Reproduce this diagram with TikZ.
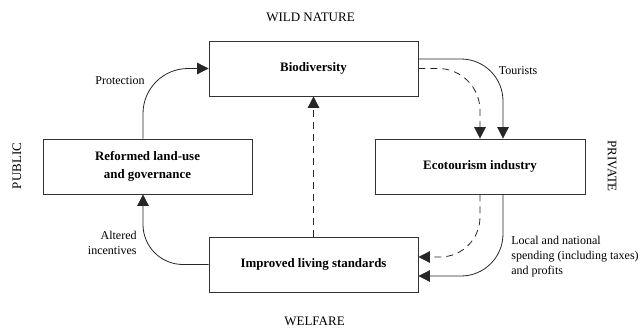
\documentclass[tikz,border=0pt]{standalone}
\usepackage{fontspec}
\setmainfont{Liberation Serif}
\usetikzlibrary{arrows.meta}
\begin{document}
\begin{tikzpicture}[x=1pt,y=-1pt,
  line width=0.8pt,
  box/.style={draw=black!80, rectangle, minimum width=209pt, minimum height=55pt, inner sep=2pt,
    font=\fontsize{12.9}{18.5}\selectfont\bfseries, align=center},
  lbl/.style={font=\fontsize{12}{14.5}\selectfont, inner sep=0pt},
  ttl/.style={font=\fontsize{13}{15}\selectfont, inner sep=0pt},
  arr/.style={draw=black!85, -{Triangle[length=11.5pt,width=11.5pt]}},
  dsh/.style={dash pattern=on 7pt off 5pt}]
\useasboundingbox (0,0) rectangle (642,329);
\node[box] (bio) at (313.5,68.5) {Biodiversity};
\node[box] (ref) at (147.5,166.5) {Reformed land-use\\and governance};
\node[box, minimum width=210pt] (eco) at (480,166.5) {Ecotourism industry};
\node[box] (imp) at (313.5,264.5) {Improved living standards};
\node[ttl] (wn) at (310.5,17) {WILD NATURE};
\node[ttl] (wf) at (314.5,321) {WELFARE};
\node[ttl, rotate=90] (pub) at (17,166) {PUBLIC};
\node[ttl, rotate=-90] (pri) at (612,166) {PRIVATE};
\node[lbl] (lp) at (120,81) {Protection};
\node[lbl] (lt) at (518,71) {Tourists};
\node[lbl, align=right, anchor=east] (la) at (137,243) {Altered\\incentives};
\node[lbl, align=left, anchor=west, font=\fontsize{12}{15}\selectfont] (ll) at (511,257) {Local and national\\spending (including taxes)\\and profits};
% connectors
\coordinate (p1) at ([xshift=-4.5pt]ref.north);
\draw[arr, rounded corners=45pt] (p1) |- (bio.west);
\coordinate (t1) at ([yshift=9.5pt]bio.east);
\coordinate (t2) at ([xshift=23pt]eco.north);
\draw[arr, rounded corners=42pt] (t1) -| (t2);
\draw[arr, dsh, rounded corners=42pt] (bio.east) -| (eco.north);
\draw[arr, dsh] (imp.north) -- (bio.south);
\coordinate (e1) at ([xshift=23pt]eco.south);
\coordinate (e2) at ([yshift=-11.5pt]imp.east);
\draw[arr, rounded corners=42pt] (e1) |- (e2);
\coordinate (e3) at ([yshift=7.5pt]imp.east);
\draw[arr, dsh, rounded corners=40pt] (eco.south) |- (e3);
\coordinate (a1) at ([xshift=-4.5pt]ref.south);
\draw[arr, rounded corners=40pt] (imp.west) -| (a1);
\end{tikzpicture}
\end{document}
